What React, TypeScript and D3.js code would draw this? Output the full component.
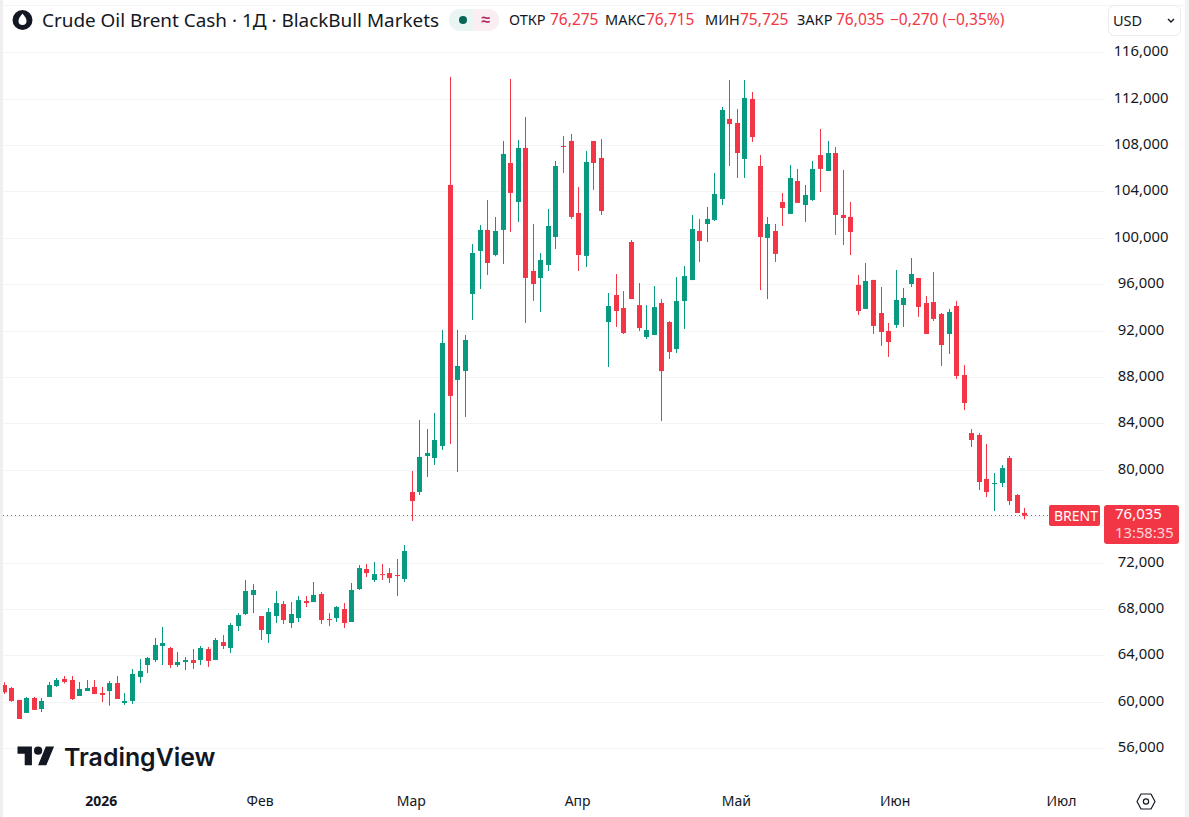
import { format, range, scaleLinear } from 'd3'

const WIDTH = 1189
const HEIGHT = 817
const FONT = '"Noto Sans", sans-serif'
const GREEN = '#089981'
const RED = '#F23645'
const GRID = '#f3f4f6'
const TEXT = '#131722'

const open = [
  61.44, 61.18, 60.15, 59.03, 60.32, 59.37, 60.41, 61.35, 61.96, 61.87,
  60.49, 60.92, 61.27, 60.75, 60.92, 61.61, 59.89, 60.06, 62.13, 63.16,
  63.59, 64.8, 64.63, 63.16, 63.42, 63.59, 63.59, 64.54, 63.59, 65.14,
  64.63, 66.52, 67.56, 69.2, 67.39, 65.83, 67.39, 68.42, 66.78, 67.21,
  68.68, 68.59, 69.28, 67.13, 67.21, 67.99, 66.87, 69.71, 71.44, 70.49,
  71.0, 71.09, 70.92, 70.58, 78.08, 78.08, 81.18, 81.01, 82.04, 104.55,
  87.74, 88.51, 95.15, 98.86, 100.67, 98.51, 100.67, 106.44, 103.08, 107.74,
  97.13, 96.53, 97.65, 100.06, 107.91, 108.34, 102.13, 98.43, 108.34, 106.87,
  92.73, 95.06, 93.94, 99.63, 94.19, 91.44, 91.61, 94.37, 92.73, 90.4,
  94.54, 96.35, 100.58, 101.18, 101.53, 103.34, 110.24, 109.89, 106.79, 111.96,
  106.18, 99.98, 100.58, 103.08, 102.05, 104.89, 102.82, 103.25, 107.13, 105.75,
  107.3, 101.96, 101.79, 95.93, 93.86, 96.36, 93.51, 91.96, 92.48, 94.2,
  96.01, 96.53, 94.37, 94.46, 93.43, 91.7, 94.11, 88.16, 83.16, 82.99,
  79.2, 78.77, 78.85, 81.01, 77.82, 76.275,
]

const high = [
  61.67, 61.27, 60.15, 60.41, 60.41, 60.32, 61.7, 62.04, 62.22, 62.22,
  61.7, 61.87, 61.87, 61.27, 61.78, 62.22, 60.75, 62.82, 63.68, 63.85,
  65.49, 66.44, 64.72, 64.29, 63.85, 64.54, 64.8, 64.72, 65.49, 65.75,
  66.78, 67.64, 70.49, 70.14, 67.39, 68.07, 69.54, 68.68, 68.59, 69.11,
  69.11, 70.32, 69.45, 67.64, 68.25, 68.51, 70.23, 71.78, 71.87, 72.04,
  71.87, 71.52, 72.3, 73.51, 79.89, 84.29, 83.51, 84.89, 92.05, 113.86,
  92.05, 91.61, 99.46, 101.1, 103.25, 101.79, 108.34, 113.68, 108.43, 110.41,
  101.18, 98.68, 102.48, 106.61, 108.77, 108.94, 104.37, 107.48, 108.34, 108.51,
  95.23, 96.87, 95.4, 99.8, 96.09, 94.19, 95.83, 94.71, 92.81, 96.61,
  97.56, 101.96, 101.62, 102.65, 105.58, 111.27, 113.6, 111.1, 113.6, 112.56,
  107.13, 101.79, 101.18, 103.86, 106.27, 105.93, 104.55, 106.61, 109.37, 108.34,
  107.82, 105.84, 103.08, 96.79, 97.82, 96.36, 95.75, 92.65, 97.22, 95.67,
  98.25, 96.53, 94.98, 97.05, 93.51, 93.86, 94.55, 89.02, 83.51, 83.16,
  82.21, 79.71, 80.4, 81.18, 77.9, 76.715,
]

const low = [
  60.66, 60.0, 58.51, 59.03, 59.29, 59.11, 60.41, 61.27, 61.58, 60.15,
  60.49, 60.92, 60.66, 59.97, 59.66, 60.23, 59.72, 59.8, 61.61, 62.47,
  63.42, 63.16, 62.91, 62.99, 62.73, 62.82, 63.16, 63.0, 63.59, 64.54,
  64.2, 66.09, 67.47, 67.64, 65.32, 65.06, 66.78, 66.7, 66.35, 66.87,
  68.16, 68.59, 66.7, 66.52, 66.87, 66.35, 66.87, 69.63, 70.75, 70.32,
  70.49, 70.23, 69.11, 70.32, 75.58, 77.82, 79.37, 80.41, 81.7, 82.22,
  79.8, 84.55, 92.91, 95.58, 96.79, 98.4, 97.74, 100.49, 101.36, 92.65,
  94.55, 93.6, 97.13, 99.03, 105.58, 101.62, 97.13, 97.48, 104.12, 101.96,
  88.85, 92.3, 91.69, 94.71, 91.95, 91.26, 91.61, 84.19, 89.54, 90.06,
  92.13, 96.35, 97.9, 99.63, 101.44, 102.82, 106.18, 105.15, 105.15, 108.25,
  95.49, 94.71, 97.91, 101.01, 102.05, 103.0, 101.36, 103.17, 103.94, 105.75,
  100.24, 99.37, 98.51, 93.34, 93.86, 91.7, 90.67, 89.72, 92.22, 92.31,
  95.75, 93.17, 91.7, 92.82, 88.94, 89.98, 87.82, 85.14, 81.96, 78.25,
  77.64, 76.44, 78.51, 76.96, 76.27, 75.725,
]

const close = [
  60.81, 60.06, 58.51, 60.32, 59.29, 60.06, 61.44, 61.87, 61.7, 60.23,
  61.1, 61.18, 60.66, 60.58, 61.61, 60.23, 60.06, 62.39, 62.65, 63.77,
  64.89, 65.06, 63.16, 63.42, 63.59, 63.34, 64.63, 63.51, 65.32, 64.8,
  66.61, 67.47, 69.54, 69.63, 66.18, 67.73, 68.51, 67.04, 67.56, 68.76,
  68.51, 69.2, 67.04, 67.04, 68.16, 66.78, 69.63, 71.52, 71.09, 71.0,
  70.92, 70.66, 70.83, 72.99, 77.3, 81.1, 81.44, 82.56, 90.92, 86.36,
  88.94, 91.18, 98.68, 100.67, 97.82, 100.58, 107.22, 103.86, 107.74, 96.53,
  96.01, 98.08, 101.01, 106.18, 107.82, 101.79, 98.51, 106.53, 106.44, 102.3,
  94.11, 93.68, 91.78, 94.71, 92.21, 92.04, 94.02, 88.5, 90.14, 94.54,
  96.69, 100.75, 99.72, 101.62, 103.77, 111.01, 109.8, 107.3, 112.05, 108.68,
  100.06, 101.18, 98.6, 102.56, 105.15, 103.0, 103.68, 105.93, 105.93, 107.3,
  101.96, 101.7, 100.49, 93.68, 96.27, 92.39, 91.87, 91.01, 94.63, 94.8,
  96.87, 94.03, 91.7, 93.0, 90.75, 93.6, 88.08, 85.75, 82.56, 78.94,
  78.08, 78.85, 80.14, 77.3, 76.27, 76.035,
]

const priceTicks = [56, 60, 64, 68, 72, 76, 80, 84, 88, 92, 96, 100, 104, 108, 112, 116]
const hiddenPriceTicks = [76] // covered by the last price label
const timeTickIndex = [13, 34, 54, 76, 97, 118, 140]
const timeTickLabels = ['2026', 'Фев', 'Мар', 'Апр', 'Май', 'Июн', 'Июл']
const legendLabels = ['ОТКР', 'МАКС', 'МИН', 'ЗАКР']
const legendValues = [open[135], high[135], low[135], close[135]]
const legendLabelX = [509, 605, 705, 797]
const legendValueX = [550, 646, 740, 836]
const lastChange = '−0,270 (−0,35%)'
const countdown = '13:58:35'
const title = 'Crude Oil Brent Cash · 1Д · BlackBull Markets'

const x = scaleLinear().domain([0, 135]).range([4, 1024.7])
const y = scaleLinear().domain([56, 116]).range([748.1, 52.1])
const price = (v: number) => format('.3f')(v).replace('.', ',')

export default function App() {
  const candles = range(open.length)
  const lastY = Math.round(y(close[135])) - 0.5

  return (
    <svg
      width={WIDTH}
      height={HEIGHT}
      viewBox={`0 0 ${WIDTH} ${HEIGHT}`}
      style={{ position: 'fixed', left: 0, top: 0, background: '#fff', fontFamily: FONT }}
    >
      <defs>
        <clipPath id="pane">
          <rect x={3} y={5} width={1101} height={780} />
        </clipPath>
      </defs>

      <rect x={0} y={0} width={3} height={HEIGHT} fill="#efefef" />
      <rect x={1185} y={0} width={4} height={HEIGHT} fill="#f3f3f3" />
      <line x1={3} x2={1185} y1={5.5} y2={5.5} stroke={GRID} />

      {priceTicks.map((t) => (
        <line key={t} x1={3} x2={1104} y1={Math.round(y(t)) + 0.5} y2={Math.round(y(t)) + 0.5} stroke={GRID} />
      ))}

      <line x1={3} x2={1050} y1={lastY} y2={lastY} stroke={RED} strokeDasharray="1 3" />

      <g clipPath="url(#pane)">
        {candles.map((i) => {
          const cx = Math.floor(x(i))
          const color = close[i] >= open[i] ? GREEN : RED
          const top = y(Math.max(open[i], close[i]))
          const bottom = y(Math.min(open[i], close[i]))
          return (
            <g key={i} fill={color}>
              <rect x={cx} y={y(high[i])} width={1} height={y(low[i]) - y(high[i])} />
              <rect x={cx - 2} y={top} width={5} height={Math.max(bottom - top, 1)} />
            </g>
          )
        })}
      </g>

      {/* header */}
      <circle cx={22.5} cy={20} r={10} fill="#131722" />
      <path d="M22.5 13.500c2.600 3.200 4 5.200 4 7.400a4 4 0 0 1-8 0c0-2.200 1.400-4.200 4-7.400z" fill="#fff" />
      <text x={42} y={26.500} fontSize={18.9} fill={TEXT}>{title}</text>

      <rect x={449} y={9} width={50} height={22} rx={11} fill="#e8f5f2" />
      <path d="M473 9h15a11 11 0 0 1 0 22h-15z" fill="#fbeef2" />
      <circle cx={463} cy={20} r={4} fill="#056656" />
      <text x={486} y={25} fontSize={16} fontWeight={700} fill="#b0275f" textAnchor="middle">≈</text>

      {legendLabels.map((label, i) => (
        <g key={label}>
          <text x={legendLabelX[i]} y={25} fontSize={14.5} fill={TEXT}>{label}</text>
          <text x={legendValueX[i]} y={25} fontSize={15.5} fill={RED}>{price(legendValues[i])}</text>
        </g>
      ))}
      <text x={890} y={25} fontSize={15.5} fill={RED}>{lastChange}</text>

      <rect x={1108.5} y={5.5} width={72} height={30} rx={6} fill="#fff" stroke="#e9ebf0" />
      <text x={1113} y={26} fontSize={14.5} fill={TEXT}>USD</text>
      <path d="M1168 19l3 3 3-3" fill="none" stroke={TEXT} strokeWidth={1.4} />

      {/* price scale */}
      {priceTicks
        .filter((t) => !hiddenPriceTicks.includes(t))
        .map((t) => (
          <text key={t} x={1141} y={y(t) + 4} fontSize={14.8} fill={TEXT} textAnchor="middle">
            {price(t)}
          </text>
        ))}

      {/* time scale */}
      {timeTickIndex.map((idx, i) => (
        <text
          key={idx}
          x={x(idx) - 1}
          y={806}
          fontSize={14}
          fill={TEXT}
          textAnchor="middle"
          fontWeight={i === 0 ? 700 : 400}
        >
          {timeTickLabels[i]}
        </text>
      ))}
      <path
        d="M1141 794h10l4 7.500-4 7.500h-10l-4-7.500z"
        fill="none"
        stroke={TEXT}
        strokeWidth={1.2}
        strokeLinejoin="round"
      />
      <circle cx={1146} cy={801.5} r={2.6} fill="none" stroke={TEXT} strokeWidth={1.2} />

      {/* last price labels */}
      <rect x={1049} y={505} width={51} height={21} rx={2} fill={RED} />
      <text x={1076} y={521} fontSize={14} fill="#fff" textAnchor="middle">BRENT</text>
      <rect x={1104} y={505} width={75} height={39} rx={3} fill={RED} />
      <text x={1115} y={519} fontSize={15} fill="#fff">{price(close[135])}</text>
      <text x={1115} y={538} fontSize={14.8} fill="#ffffffcc">{countdown}</text>

      {/* watermark */}
      <g transform="translate(17.500 742.500) scale(1.03)" fill="#131722">
        <path d="M14 22H7V11H0V4h14v18zM28 22h-8l7.500-18h8L28 22z" />
        <circle cx={20} cy={8} r={4} />
      </g>
      <text x={64} y={765.5} fontSize={24.85} fontWeight={600} fill="#131722" style={{ fontFamily: 'Inter, sans-serif' }}>
        TradingView
      </text>
    </svg>
  )
}
